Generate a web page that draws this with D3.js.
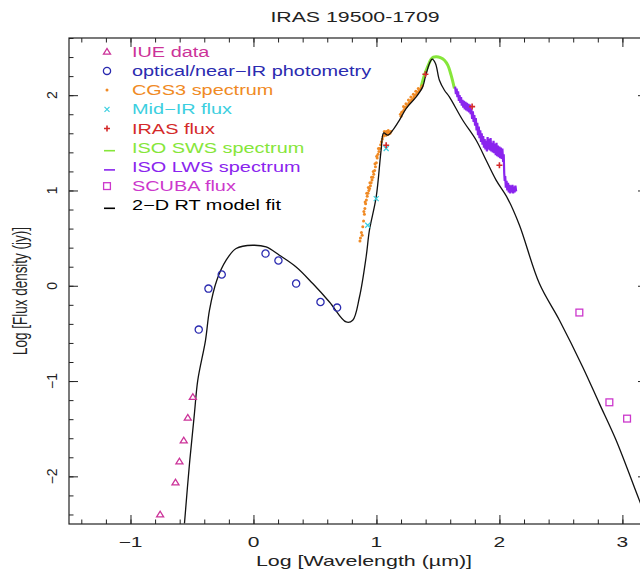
<!DOCTYPE html>
<html>
<head>
<meta charset="utf-8">
<script src="https://cdn.jsdelivr.net/npm/d3@7"></script>
<style>
  body { margin: 0; background: #fff; }
  text { font-family: "Liberation Sans", Arial, sans-serif; }
</style>
</head>
<body>
<svg id="chart" width="640" height="580"></svg>
<script>
// ---- data (log10 wavelength in um, log10 flux in Jy) ----
const xTicks = [-1, 0, 1, 2, 3];
const yTicks = [-2, -1, 0, 1, 2];

const iueData = [[-0.493, -1.167], [-0.534, -1.384], [-0.567, -1.622], [-0.602, -1.843], [-0.634, -2.063], [-0.759, -2.399]];

const opticalData = [[-0.445, -0.46], [-0.366, -0.03], [-0.258, 0.118], [0.098, 0.338], [0.203, 0.265],
    [0.347, 0.023], [0.545, -0.17], [0.68, -0.229]];

const cgs3Data = [[0.866, 0.47], [0.870, 0.50], [0.878, 0.56], [0.884, 0.53], [0.889, 0.62], [0.895, 0.68],
    [0.902, 0.75], [0.898, 0.78], [0.906, 0.81], [0.912, 0.86], [0.908, 0.88], [0.918, 0.90], [0.925, 0.94],
    [0.921, 0.97], [0.931, 0.97], [0.938, 1.00], [0.934, 1.03], [0.944, 1.02], [0.951, 1.05], [0.947, 1.08],
    [0.957, 1.08], [0.964, 1.11], [0.960, 1.14], [0.971, 1.14], [0.978, 1.17], [0.974, 1.20], [0.985, 1.21],
    [0.992, 1.25], [0.988, 1.28], [0.999, 1.29], [1.006, 1.34], [1.002, 1.36], [1.013, 1.38], [1.020, 1.41],
    [1.016, 1.44], [1.027, 1.44], [1.034, 1.48], [1.041, 1.51], [1.048, 1.54], [1.055, 1.57], [1.062, 1.58],
    [1.070, 1.59], [1.078, 1.58], [1.086, 1.60], [1.094, 1.59], [1.102, 1.61], [1.110, 1.60], [1.118, 1.62],
    [1.064, 1.62], [1.080, 1.62], [1.096, 1.63],
    [1.195, 1.80], [1.205, 1.82], [1.200, 1.78], [1.215, 1.83], [1.225, 1.85], [1.220, 1.88], [1.235, 1.87],
    [1.245, 1.88], [1.240, 1.91], [1.255, 1.90], [1.265, 1.92], [1.260, 1.95], [1.275, 1.93], [1.285, 1.95],
    [1.280, 1.98], [1.295, 1.96], [1.305, 1.98], [1.300, 2.01], [1.315, 2.00], [1.325, 2.01], [1.320, 2.04],
    [1.335, 2.03], [1.345, 2.04], [1.340, 2.07], [1.355, 2.06], [1.365, 2.08], [1.372, 2.10]];

const midIrData = [[0.929, 0.635], [0.998, 0.915], [1.079, 1.44]];

const irasData = [[1.079, 1.475], [1.398, 2.22], [1.778, 1.88], [2.0, 1.265]];

const swsData = [[1.363, 2.087], [1.390, 2.21], [1.415, 2.294], [1.445, 2.378], [1.463, 2.399], [1.488, 2.404],
    [1.520, 2.394], [1.553, 2.367], [1.580, 2.315], [1.607, 2.21], [1.634, 2.07]];

const lwsData = [[1.640, 2.09], [1.646, 2.01], [1.652, 2.07], [1.658, 1.98], [1.664, 2.04], [1.670, 1.94],
    [1.676, 2.00], [1.682, 1.92], [1.688, 1.98], [1.694, 1.89], [1.700, 1.95], [1.706, 1.87], [1.712, 1.94],
    [1.718, 1.85], [1.724, 1.93], [1.730, 1.84], [1.736, 1.92], [1.742, 1.83], [1.748, 1.91], [1.754, 1.82],
    [1.760, 1.90], [1.766, 1.80], [1.772, 1.86], [1.778, 1.75], [1.784, 1.83], [1.790, 1.72], [1.796, 1.79],
    [1.802, 1.68], [1.808, 1.76], [1.814, 1.63], [1.820, 1.71], [1.826, 1.58], [1.832, 1.67], [1.838, 1.55],
    [1.844, 1.63], [1.850, 1.51], [1.856, 1.60], [1.862, 1.48], [1.868, 1.57], [1.874, 1.45], [1.880, 1.54],
    [1.886, 1.43], [1.892, 1.52], [1.898, 1.41], [1.904, 1.56], [1.910, 1.43], [1.916, 1.54], [1.922, 1.42],
    [1.928, 1.55], [1.934, 1.41], [1.940, 1.50], [1.946, 1.40], [1.952, 1.52], [1.958, 1.39], [1.964, 1.49],
    [1.970, 1.37], [1.976, 1.50], [1.982, 1.36], [1.988, 1.47], [1.994, 1.35], [2.000, 1.46], [2.006, 1.34],
    [2.012, 1.45], [2.018, 1.33], [2.024, 1.44], [2.030, 1.30], [2.035, 1.38], [2.039, 1.18], [2.043, 1.10],
    [2.047, 1.15], [2.052, 1.03], [2.058, 1.10], [2.064, 1.00], [2.070, 1.08], [2.076, 0.98], [2.082, 1.06],
    [2.088, 0.97], [2.094, 1.05], [2.100, 0.98], [2.106, 1.06], [2.112, 0.97], [2.118, 1.04], [2.124, 0.98],
    [2.130, 1.05], [2.136, 0.99]];

const scubaData = [[2.650, -0.281], [2.894, -1.223], [3.038, -1.394]];

const modelData = [[-0.561, -2.493], [-0.520, -1.864], [-0.480, -1.339], [-0.453, -0.992], [-0.390, -0.572],
    [-0.358, -0.257], [-0.298, 0.058], [-0.222, 0.268], [-0.141, 0.391], [-0.006, 0.425], [0.103, 0.407],
    [0.211, 0.320], [0.347, 0.197], [0.482, 0.023], [0.618, -0.170], [0.754, -0.380], [0.807, -0.362],
    [0.862, -0.118], [0.916, 0.302], [0.943, 0.583], [0.998, 0.932], [1.038, 1.423], [1.059, 1.604],
    [1.092, 1.580], [1.133, 1.633], [1.187, 1.738], [1.241, 1.860], [1.323, 1.982], [1.376, 2.087],
    [1.398, 2.192], [1.431, 2.333], [1.453, 2.378], [1.480, 2.333], [1.512, 2.157], [1.553, 2.052],
    [1.593, 1.982], [1.702, 1.737], [1.811, 1.527], [1.892, 1.317], [1.973, 1.108], [2.067, 0.915],
    [2.163, 0.635], [2.325, 0.023], [2.488, -0.362], [2.677, -0.852], [2.813, -1.237], [2.949, -1.622],
    [3.138, -2.252], [3.2, -2.45]];

const legendLabels = ["IUE data", "optical/near\u2212IR photometry", "CGS3 spectrum", "Mid\u2212IR flux", "IRAS flux",
    "ISO SWS spectrum", "ISO LWS spectrum", "SCUBA flux", "2\u2212D RT model fit"];
const legendSymbols = ["triangle", "circle", "dot", "cross", "plus", "line", "line", "square", "line"];
const legendColors = ["#cc3399", "#2b2bb0", "#f08a24", "#3ccfe0", "#d42a2a", "#86e63a", "#8a24ee", "#cc38cc", "#000000"];

// ---- layout ----
const svg = d3.select("#chart");
const x = d3.scaleLinear().domain([-1.5, 3.2]).range([69, 647]);
const y = d3.scaleLinear().domain([-2.5, 2.6]).range([524, 38]);
const stretch = 1.5; // the reference is squashed horizontally, text too

svg.append("defs").append("clipPath").attr("id", "plot-clip")
    .append("rect").attr("x", 69).attr("y", 38).attr("width", 578).attr("height", 486);

// axes: ticks point inward on all four sides
const minor = d3.range(-1.4, 3.21, 0.2);
const minorY = d3.range(-2.4, 2.61, 0.2);
function tickAxes(axisFn, scale, transform, values, size) {
    svg.append("g").attr("transform", transform)
        .call(axisFn(scale).tickValues(values).tickSize(-size).tickFormat("").tickSizeOuter(0))
        .call(g => g.select(".domain").remove())
        .call(g => g.selectAll("line").attr("stroke", "#222"));
}
tickAxes(d3.axisBottom, x, "translate(0,524)", minor, 4.5);
tickAxes(d3.axisBottom, x, "translate(0,524)", xTicks, 9);
tickAxes(d3.axisTop, x, "translate(0,38)", minor, 4.5);
tickAxes(d3.axisTop, x, "translate(0,38)", xTicks, 9);
tickAxes(d3.axisLeft, y, "translate(69,0)", minorY, 4.5);
tickAxes(d3.axisLeft, y, "translate(69,0)", yTicks, 9);
tickAxes(d3.axisRight, y, "translate(647,0)", minorY, 4.5);
tickAxes(d3.axisRight, y, "translate(647,0)", yTicks, 9);

svg.append("rect").attr("x", 69).attr("y", 38).attr("width", 578).attr("height", 486)
    .attr("fill", "none").attr("stroke", "#222").attr("stroke-width", 1.2);

const fmt = v => (v < 0 ? "\u2212" + Math.abs(v) : String(v));
svg.append("g").selectAll("text").data(xTicks).enter().append("text")
    .attr("transform", d => `translate(${x(d)},547) scale(${stretch},1)`)
    .attr("text-anchor", "middle").style("font-size", "14px").attr("fill", "#222")
    .text(fmt);
svg.append("g").selectAll("text").data(yTicks).enter().append("text")
    .attr("transform", d => `translate(57,${y(d)}) rotate(-90)`)
    .attr("text-anchor", "middle").style("font-size", "14px").attr("fill", "#222")
    .text(fmt);

svg.append("text").attr("transform", "translate(355,22) scale(1.42,1)")
    .attr("text-anchor", "middle").style("font-size", "15px").attr("fill", "#222")
    .text("IRAS 19500-1709");
svg.append("text").attr("transform", "translate(364,566) scale(1.53,1)")
    .attr("text-anchor", "middle").style("font-size", "14px").attr("fill", "#222")
    .text("Log [Wavelength (\u00b5m)]");
svg.append("text").attr("transform", `translate(27,291) scale(${stretch},1) rotate(-90)`)
    .attr("text-anchor", "middle").style("font-size", "13.5px").attr("fill", "#222")
    .text("Log [Flux density (jy)]");

// ---- symbols ----
function drawSymbol(sel, type, color) {
    if (type === "triangle") {
        sel.append("path").attr("d", "M-3.5,2.5L3.5,2.5L0,-3.2Z").attr("fill", "none").attr("stroke", color).attr("stroke-width", 1.3);
    } else if (type === "circle") {
        sel.append("circle").attr("r", 3.6).attr("fill", "none").attr("stroke", color).attr("stroke-width", 1.3);
    } else if (type === "square") {
        sel.append("rect").attr("x", -3.4).attr("y", -3.4).attr("width", 6.8).attr("height", 6.8)
            .attr("fill", "none").attr("stroke", color).attr("stroke-width", 1.3);
    } else if (type === "dot") {
        sel.append("circle").attr("r", 1.5).attr("fill", color);
    } else if (type === "cross") {
        sel.append("path").attr("d", "M-2.5,-2.5L2.5,2.5M-2.5,2.5L2.5,-2.5").attr("stroke", color).attr("stroke-width", 1.2);
    } else if (type === "plus") {
        sel.append("path").attr("d", "M-3,0L3,0M0,-3L0,3").attr("stroke", color).attr("stroke-width", 1.6);
    } else if (type === "line") {
        sel.append("path").attr("d", "M-3,3L8,3").attr("stroke", color).attr("stroke-width", 1.6);
    }
}

const plot = svg.append("g").attr("clip-path", "url(#plot-clip)");
const line = d3.line().x(d => x(d[0])).y(d => y(d[1]));

plot.append("path").attr("d", line.curve(d3.curveCatmullRom.alpha(0.5))(swsData)).attr("fill", "none")
    .attr("stroke", legendColors[5]).attr("stroke-width", 3);
line.curve(d3.curveLinear);
plot.append("path").attr("d", line(lwsData)).attr("fill", "none")
    .attr("stroke", legendColors[6]).attr("stroke-width", 2.2).attr("stroke-linejoin", "miter");

function points(data, type, color) {
    plot.append("g").selectAll("g").data(data).enter().append("g")
        .attr("transform", d => `translate(${x(d[0])},${y(d[1])})`)
        .each(function() { drawSymbol(d3.select(this), type, color); });
}
points(cgs3Data, "dot", legendColors[2]);

plot.append("path").attr("d", line.curve(d3.curveCatmullRom.alpha(0.5))(modelData)).attr("fill", "none")
    .attr("stroke", "#111").attr("stroke-width", 1.3);

points(iueData, "triangle", legendColors[0]);
points(opticalData, "circle", legendColors[1]);
points(midIrData, "cross", legendColors[3]);
points(irasData, "plus", legendColors[4]);
points(scubaData, "square", legendColors[7]);

// ---- legend ----
const legend = svg.append("g").selectAll("g").data(legendLabels).enter().append("g")
    .attr("transform", (d, i) => `translate(107,${51.7 + i * 19.2})`);
legend.each(function(d, i) { drawSymbol(d3.select(this), legendSymbols[i], legendColors[i]); });
legend.append("text")
    .attr("transform", "translate(25,5) scale(1.42,1)")
    .style("font-size", "14px")
    .attr("fill", (d, i) => legendColors[i])
    .text(d => d);
</script>
</body>
</html>
